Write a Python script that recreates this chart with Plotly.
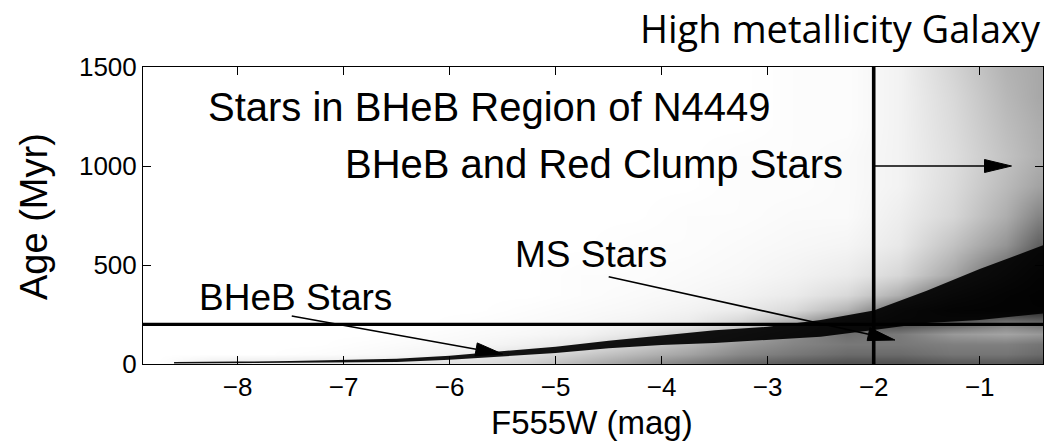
import plotly.graph_objects as go

# ---- data -------------------------------------------------------------
# F555W magnitude grid (column centres) and age grid (row centres) of the star-density map
mag_grid = [-8.75, -8.25, -7.75, -7.25, -6.75, -6.25, -5.75, -5.25, -4.75,
            -4.25, -3.75, -3.25, -2.75, -2.25, -1.75, -1.25, -0.75, -0.45]
age_grid = [10, 50, 100, 150, 200, 275, 350, 450, 600, 750, 900, 1050, 1200, 1350, 1500]

# relative star density (0 = empty, 1 = saturated), one row per age
density = [
    [0.00, 0.06, 0.08, 0.08, 0.08, 0.10, 0.12, 0.18, 0.28, 0.38, 0.48, 0.58, 0.64, 0.68, 0.68, 0.64, 0.64, 0.68],
    [0.00, 0.00, 0.00, 0.01, 0.02, 0.04, 0.08, 0.12, 0.20, 0.28, 0.36, 0.47, 0.53, 0.58, 0.58, 0.54, 0.54, 0.58],
    [0.00, 0.00, 0.00, 0.00, 0.01, 0.02, 0.03, 0.06, 0.10, 0.18, 0.28, 0.40, 0.48, 0.53, 0.53, 0.50, 0.50, 0.54],
    [0.00, 0.00, 0.00, 0.00, 0.00, 0.01, 0.02, 0.03, 0.05, 0.10, 0.20, 0.32, 0.45, 0.57, 0.52, 0.40, 0.36, 0.40],
    [0.00, 0.00, 0.00, 0.00, 0.00, 0.00, 0.01, 0.02, 0.03, 0.05, 0.08, 0.18, 0.35, 0.60, 0.70, 0.62, 0.50, 0.55],
    [0.00, 0.00, 0.00, 0.00, 0.00, 0.00, 0.00, 0.01, 0.02, 0.03, 0.05, 0.08, 0.15, 0.30, 0.60, 0.80, 0.85, 0.85],
    [0.00, 0.00, 0.00, 0.00, 0.00, 0.00, 0.00, 0.00, 0.01, 0.02, 0.03, 0.05, 0.08, 0.15, 0.32, 0.60, 0.80, 0.88],
    [0.00, 0.00, 0.00, 0.00, 0.00, 0.00, 0.00, 0.00, 0.01, 0.01, 0.02, 0.03, 0.05, 0.08, 0.16, 0.35, 0.62, 0.80],
    [0.00, 0.00, 0.00, 0.00, 0.00, 0.00, 0.00, 0.00, 0.00, 0.01, 0.01, 0.02, 0.03, 0.04, 0.09, 0.24, 0.42, 0.62],
    [0.00, 0.00, 0.00, 0.00, 0.00, 0.00, 0.00, 0.00, 0.00, 0.00, 0.01, 0.01, 0.02, 0.02, 0.07, 0.16, 0.32, 0.48],
    [0.00, 0.00, 0.00, 0.00, 0.00, 0.00, 0.00, 0.00, 0.00, 0.00, 0.00, 0.01, 0.01, 0.02, 0.05, 0.14, 0.27, 0.36],
    [0.00, 0.00, 0.00, 0.00, 0.00, 0.00, 0.00, 0.00, 0.00, 0.00, 0.00, 0.01, 0.01, 0.02, 0.05, 0.13, 0.24, 0.31],
    [0.00, 0.00, 0.00, 0.00, 0.00, 0.00, 0.00, 0.00, 0.00, 0.00, 0.00, 0.00, 0.01, 0.01, 0.05, 0.14, 0.26, 0.32],
    [0.00, 0.00, 0.00, 0.00, 0.00, 0.00, 0.00, 0.00, 0.00, 0.00, 0.00, 0.00, 0.01, 0.01, 0.05, 0.15, 0.28, 0.34],
    [0.00, 0.00, 0.00, 0.00, 0.00, 0.00, 0.00, 0.00, 0.00, 0.00, 0.00, 0.00, 0.01, 0.01, 0.05, 0.17, 0.30, 0.34],
]

# dense main-sequence / blue-helium-burning ridge: lower and upper age edge per magnitude
ridge_mag = [-8.6, -8.0, -7.5, -7.0, -6.5, -6.0, -5.5, -5.0, -4.5, -4.0, -3.5, -3.0, -2.5, -2.0, -1.5, -1.0, -0.4]
ridge_lo = [3, 4, 5, 7, 10, 22, 38, 55, 80, 96, 106, 121, 138, 172, 207, 222, 255]
ridge_hi = [10, 12, 15, 20, 27, 42, 66, 87, 118, 145, 170, 188, 222, 270, 370, 480, 600]

# selection cuts
age_cut = 200        # Myr
mag_cut = -2.0       # mag

x_ticks = [-8, -7, -6, -5, -4, -3, -2, -1]
y_ticks = [0, 500, 1000, 1500]

# labelled arrows: (tail mag, tail age) -> (tip mag, tip age)
arrows = [
    ((-7.49, 242), (-5.50, 50)),     # BHeB Stars
    ((-4.50, 441), (-1.80, 121)),    # MS Stars
    ((-2.00, 1000), (-0.70, 1000)),  # BHeB and Red Clump Stars
]

# ---- layout geometry --------------------------------------------------
W, H = 1058, 448
ML, MR, MT, MB = 143, 15, 67, 84
PW, PH = W - ML - MR, H - MT - MB
x_range = [-8.893, -0.403]
y_range = [0, 1500]
sx = PW / (x_range[1] - x_range[0])   # px per mag
sy = PH / (y_range[1] - y_range[0])   # px per Myr


def paper(px, py):
    return (px - ML) / PW, (MT + PH - py) / PH


FONT = "Liberation Sans, Arial, Helvetica, sans-serif"

fig = go.Figure()

fig.add_trace(go.Heatmap(
    x=mag_grid, y=age_grid, z=density,
    zmin=0, zmax=1, zsmooth="best",
    colorscale=[[0, "rgb(255,255,255)"], [1, "rgb(0,0,0)"]],
    showscale=False, hoverinfo="skip",
))

fig.add_trace(go.Scatter(
    x=ridge_mag + ridge_mag[::-1],
    y=ridge_lo + ridge_hi[::-1],
    fill="toself", fillcolor="rgba(0,0,0,0.92)",
    line=dict(width=0), mode="lines", hoverinfo="skip", showlegend=False,
))

shapes = [
    dict(type="line", xref="paper", yref="y", x0=0, x1=1, y0=age_cut, y1=age_cut,
         line=dict(color="black", width=3.2)),
    dict(type="line", xref="x", yref="paper", x0=mag_cut, x1=mag_cut, y0=0, y1=1,
         line=dict(color="black", width=3.6)),
]

# arrow shafts and long narrow triangular heads, built in pixel space
HEAD_LEN, HEAD_HALF = 27.0, 6.5
for (x0, y0), (x1, y1) in arrows:
    dxp, dyp = (x1 - x0) * sx, (y1 - y0) * sy
    n = (dxp ** 2 + dyp ** 2) ** 0.5
    ux, uy = dxp / n, dyp / n
    bx, by = x1 - HEAD_LEN * ux / sx, y1 - HEAD_LEN * uy / sy
    c1x, c1y = bx + (-uy) * HEAD_HALF / sx, by + ux * HEAD_HALF / sy
    c2x, c2y = bx - (-uy) * HEAD_HALF / sx, by - ux * HEAD_HALF / sy
    shapes.append(dict(type="line", xref="x", yref="y", x0=x0, y0=y0, x1=bx, y1=by,
                       line=dict(color="black", width=1.6)))
    shapes.append(dict(type="path", xref="x", yref="y",
                       path=f"M{x1},{y1} L{c1x},{c1y} L{c2x},{c2y} Z",
                       fillcolor="black", line=dict(color="black", width=1)))


def label(text, px, py, size, xanchor="center", angle=0, family=FONT):
    xp, yp = paper(px, py)
    return dict(text=text, xref="paper", yref="paper", x=xp, y=yp,
                xanchor=xanchor, yanchor="middle", showarrow=False, textangle=angle,
                font=dict(family=family, size=size, color="black"))


annotations = [
    label("Stars in BHeB Region of N4449", 489, 107, 40),
    label("BHeB and Red Clump Stars", 594, 164, 40),
    label("MS Stars", 591, 254, 37),
    label("BHeB Stars", 295, 297, 37),
    label("F555W (mag)", 592, 422, 33),
    label("Age (Myr)", 34, 217, 38, angle=-90),
    label("High metallicity Galaxy", 1043, 28, 38, xanchor="right",
          family="Open Sans, Noto Sans, sans-serif"),
]

axis_common = dict(
    showgrid=False, zeroline=False, showline=True, mirror="ticks",
    linecolor="black", linewidth=1, ticks="inside", ticklen=8, tickwidth=1,
    tickcolor="black", tickfont=dict(family=FONT, size=26, color="black"),
)

fig.update_xaxes(range=x_range, tickvals=x_ticks, **axis_common)
fig.update_yaxes(range=y_range, tickvals=y_ticks, **axis_common)

fig.update_layout(
    width=W, height=H,
    margin=dict(l=ML, r=MR, t=MT, b=MB, pad=0),
    paper_bgcolor="white", plot_bgcolor="white",
    showlegend=False, shapes=shapes, annotations=annotations,
)

fig.write_html("out.html")
